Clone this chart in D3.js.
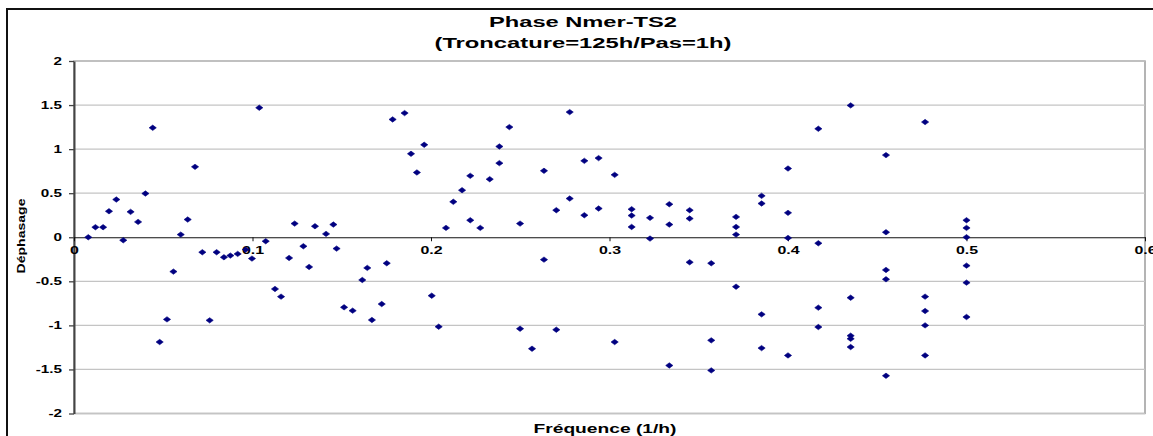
<!DOCTYPE html>
<html>
<head>
<meta charset="utf-8">
<script src="https://cdn.jsdelivr.net/npm/d3@7"></script>
<style>
  html, body { margin: 0; padding: 0; background: #fff; }
  svg { display: block; }
  text { font-family: "Liberation Sans", Arial, sans-serif; font-weight: bold; fill: #000; }
</style>
</head>
<body>
<svg id="chart" width="1153" height="436"></svg>
<script>
// ---- Data ----
const titleLines = ["Phase Nmer-TS2", "(Troncature=125h/Pas=1h)"];
const xTitle = "Fréquence (1/h)";
const yTitle = "Déphasage";
const xTicks = [0, 0.1, 0.2, 0.3, 0.4, 0.5, 0.6];
const yTicks = [-2, -1.5, -1, -0.5, 0, 0.5, 1, 1.5, 2];

const frequence = [
  0.0080, 0.0120, 0.0163, 0.0196, 0.0237, 0.0276, 0.0317, 0.0359, 0.0400, 0.0441,
  0.0480, 0.0521, 0.0557, 0.0598, 0.0637, 0.0678, 0.0719, 0.0760, 0.0799, 0.0840,
  0.0876, 0.0917, 0.0962, 0.0997, 0.1038, 0.1074, 0.1126, 0.1160, 0.1205, 0.1236,
  0.1285, 0.1317, 0.1350, 0.1412, 0.1453, 0.1471, 0.1513, 0.1561, 0.1615, 0.1643,
  0.1669, 0.1724, 0.1752, 0.1785, 0.1852, 0.1888, 0.1921, 0.1962, 0.2004, 0.2043,
  0.2084, 0.2125, 0.2174, 0.2220, 0.2220, 0.2276, 0.2329, 0.2383, 0.2383, 0.2439,
  0.2499, 0.2499, 0.2566, 0.2633, 0.2633, 0.2702, 0.2702, 0.2777, 0.2777, 0.2859,
  0.2859, 0.2939, 0.2939, 0.3029, 0.3029, 0.3124, 0.3124, 0.3124, 0.3227, 0.3227,
  0.3335, 0.3335, 0.3335, 0.3449, 0.3449, 0.3449, 0.3570, 0.3570, 0.3570, 0.3709,
  0.3709, 0.3709, 0.3709, 0.3852, 0.3852, 0.3852, 0.3852, 0.4000, 0.4000, 0.4000,
  0.4000, 0.4170, 0.4170, 0.4170, 0.4170, 0.4351, 0.4351, 0.4351, 0.4351, 0.4351,
  0.4549, 0.4549, 0.4549, 0.4549, 0.4549, 0.4768, 0.4768, 0.4768, 0.4768, 0.4768,
  0.5000, 0.5000, 0.5000, 0.5000, 0.5000, 0.5000
];
const dephasage = [
  0.000, 0.114, 0.114, 0.295, 0.428, -0.034, 0.288, 0.174, 0.496, 1.242,
  -1.189, -0.932, -0.390, 0.030, 0.201, 0.799, -0.170, -0.943, -0.170, -0.227,
  -0.208, -0.189, -0.140, -0.242, 1.470, -0.045, -0.587, -0.674, -0.235, 0.155,
  -0.102, -0.337, 0.125, 0.038, 0.144, -0.129, -0.795, -0.833, -0.485, -0.348,
  -0.939, -0.758, -0.295, 1.337, 1.409, 0.947, 0.735, 1.049, -0.663, -1.015,
  0.106, 0.402, 0.534, 0.697, 0.193, 0.106, 0.659, 1.030, 0.841, 1.250,
  0.155, -1.038, -1.265, 0.754, -0.254, 0.307, -1.049, 1.420, 0.439, 0.867,
  0.250, 0.898, 0.326, 0.708, -1.189, 0.318, 0.246, 0.117, 0.220, -0.015,
  0.375, 0.144, -1.455, 0.307, 0.212, -0.284, -0.295, -1.170, -1.511, 0.231,
  0.117, 0.030, -0.561, 0.470, 0.383, -0.875, -1.258, 0.780, 0.277, -0.008,
  -1.341, 1.231, -0.068, -0.799, -1.019, 1.496, -0.686, -1.117, -1.152, -1.246,
  0.932, 0.057, -0.371, -0.477, -1.572, 1.307, -0.674, -0.837, -1.000, -1.341,
  0.193, 0.106, 0.000, -0.322, -0.515, -0.905
];

// ---- Layout ----
const plot = { left: 74, right: 1145, top: 61, bottom: 413.5 };
const sx = 1.45; // horizontal stretch of the reference's text

const svg = d3.select("#chart");
const x = d3.scaleLinear().domain([0, 0.6]).range([plot.left, plot.right]);
const y = d3.scaleLinear().domain([-2, 2]).range([plot.bottom, plot.top]);

// outer chart border
svg.append("rect")
  .attr("x", 7).attr("y", 9).attr("width", 1170).attr("height", 450)
  .attr("fill", "#fff").attr("stroke", "#111").attr("stroke-width", 2);

// plot area border
svg.append("rect")
  .attr("x", plot.left).attr("y", plot.top)
  .attr("width", plot.right - plot.left).attr("height", plot.bottom - plot.top)
  .attr("fill", "#fff").attr("stroke", "#8c8c8c").attr("stroke-width", 1.3);

// gridlines
svg.append("g").selectAll("line").data(yTicks.filter(d => d !== 0)).join("line")
  .attr("x1", plot.left).attr("x2", plot.right)
  .attr("y1", d => y(d)).attr("y2", d => y(d))
  .attr("stroke", "#c4c4c4").attr("stroke-width", 1.3);

// y axis
const yAxis = svg.append("g")
  .attr("transform", `translate(${plot.left},0)`)
  .call(d3.axisLeft(y).tickValues(yTicks).tickFormat(d => String(d)).tickSizeInner(5).tickSizeOuter(0).tickPadding(7));
yAxis.select(".domain").attr("stroke", "#444").attr("stroke-width", 2);
yAxis.selectAll(".tick line").attr("stroke", "#444").attr("stroke-width", 1.3);
yAxis.selectAll(".tick text")
  .attr("font-size", 10.5).attr("font-family", null).attr("fill", "#000")
  .attr("x", -12 / sx)
  .attr("transform", `scale(${sx},1)`);

// x axis at y = 0
const xAxis = svg.append("g")
  .attr("transform", `translate(0,${y(0)})`)
  .call(d3.axisBottom(x).tickValues(xTicks).tickFormat(d => String(d)).tickSizeInner(4).tickSizeOuter(0).tickPadding(5));
xAxis.select(".domain").attr("stroke", "#111").attr("stroke-width", 1.2);
xAxis.selectAll(".tick line").attr("stroke", "#111");
xAxis.selectAll(".tick text")
  .attr("font-size", 11).attr("font-family", null).attr("fill", "#000")
  .attr("transform", `scale(${sx},1)`);

// markers
const pts = frequence.map((f, i) => ({ f, p: dephasage[i] }));
const hw = 3.6, hh = 2.7;
svg.append("g").selectAll("path").data(pts).join("path")
  .attr("d", d => {
    const cx = x(d.f), cy = y(d.p);
    return `M${cx - hw},${cy}L${cx},${cy - hh}L${cx + hw},${cy}L${cx},${cy + hh}Z`;
  })
  .attr("fill", "#000080").attr("stroke", "#000080").attr("stroke-width", 0.6);

// titles
svg.append("text").attr("x", 583).attr("y", 27).attr("text-anchor", "middle")
  .attr("font-size", 14).attr("textLength", 188).attr("lengthAdjust", "spacingAndGlyphs")
  .text(titleLines[0]);
svg.append("text").attr("x", 583).attr("y", 48).attr("text-anchor", "middle")
  .attr("font-size", 14).attr("textLength", 297).attr("lengthAdjust", "spacingAndGlyphs")
  .text(titleLines[1]);

svg.append("text").attr("x", 605).attr("y", 433).attr("text-anchor", "middle")
  .attr("font-size", 13.5).attr("textLength", 143).attr("lengthAdjust", "spacingAndGlyphs")
  .text(xTitle);

svg.append("text")
  .attr("transform", `translate(25,236) rotate(-90)`)
  .attr("text-anchor", "middle")
  .attr("font-size", 11).attr("textLength", 75).attr("lengthAdjust", "spacingAndGlyphs")
  .text(yTitle);
</script>
</body>
</html>
